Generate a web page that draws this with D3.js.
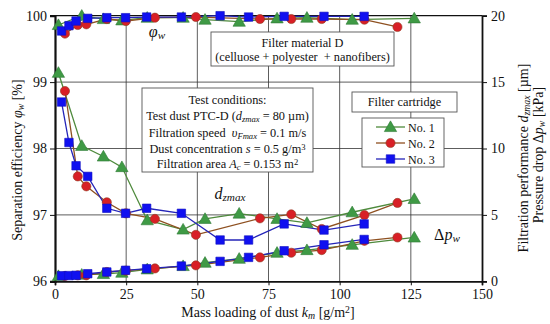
<!DOCTYPE html>
<html><head><meta charset="utf-8">
<script src="https://cdn.jsdelivr.net/npm/d3@7"></script>
<style>body{margin:0;background:#fff}svg{display:block}text{font-family:"Liberation Serif","Times New Roman",serif;fill:#111}</style>
</head><body><svg id="c" width="550" height="324"></svg>
<script>
// ---- data ----
const k1 = [1.2, 9.4, 17, 23.5, 32.4, 45, 52.7, 64.7, 78, 88.5, 104.4, 126.2];
const phi1 = [99.86, 100, 99.95, 99.93, 99.97, 99.97, 99.94, 99.91, 99.96, 99.97, 99.94, 99.96];
const dz1 = [15.7, 10.2, 9.4, 8.6, 4.6, 3.9, 4.7, 5.1, 4.7, 4.4, 5.2, 6.2];
const dp1 = [0.4, 0.5, 0.55, 0.65, 0.9, 1.15, 1.4, 1.7, 2.15, 2.35, 2.75, 3.3];

const k2 = [3.5, 8, 11, 18.2, 24.9, 35.1, 49.5, 72, 83, 93.7, 108.7, 120.3];
const phi2 = [99.73, 99.86, 99.87, 99.95, 99.92, 99.97, 99.98, 99.95, 99.95, 99.95, 99.94, 99.83];
const dz2 = [14.33, 7.9, 7.15, 5.95, 5.12, 4.7, 3.5, 4.74, 5.04, 3.94, 4.99, 5.9];
const dp2 = [0.4, 0.45, 0.45, 0.7, 0.8, 0.97, 1.2, 1.8, 2.15, 2.35, 3.05, 3.3];

const k3 = [2.3, 4.9, 7.4, 11.5, 18.2, 24.8, 32.2, 44.4, 58, 68, 80.5, 94.5, 108.6];
const phi3 = [99.77, 99.85, 99.92, 99.96, 99.97, 99.97, 99.98, 99.98, 100, 99.98, 99.99, 99.99, 99.99];
const dz3 = [13.5, 10.45, 8.7, 7.9, 5.5, 5.12, 5.5, 5.12, 3.11, 3.11, 4.32, 3.86, 4.32];
const dp3 = [0.42, 0.43, 0.45, 0.57, 0.7, 0.83, 0.95, 1.15, 1.5, 1.8, 2.3, 2.75, 3.15];

const xTicks = [0, 25, 50, 75, 100, 125, 150];
const yLTicks = [96, 97, 98, 99, 100];
const yRTicks = [0, 5, 10, 15, 20];
const seriesNames = ["No. 1", "No. 2", "No. 3"];

// ---- layout ----
const svg = d3.select("#c");
const L = 55, R = 482, T = 15.7, B = 281.3;
const x = d3.scaleLinear().domain([0, 150]).range([L, R]);
const yL = d3.scaleLinear().domain([96, 100]).range([B, T]);
const yR = d3.scaleLinear().domain([0, 20]).range([B, T]);

const styles = [
  {line: "#4e8a3c", fill: "#3f9a45", stroke: "#2f7a35", shape: d3.symbolTriangle, size: 66},
  {line: "#8e5020", fill: "#d81f26", stroke: "#8e3a20", shape: d3.symbolCircle, size: 66},
  {line: "#2424b8", fill: "#1010f0", stroke: "#1010c0", shape: d3.symbolSquare, size: 72}
];
const series = [
  {k: k1, phi: phi1, dz: dz1, dp: dp1},
  {k: k2, phi: phi2, dz: dz2, dp: dp2},
  {k: k3, phi: phi3, dz: dz3, dp: dp3}
];

// grid
const g = svg.append("g");
g.selectAll(".vg").data(xTicks.filter(d => d > 0 && d < 150)).join("line")
  .attr("x1", d => x(d)).attr("x2", d => x(d)).attr("y1", T).attr("y2", B)
  .attr("stroke", "#333").attr("stroke-width", 0.8);
g.selectAll(".hg").data(yLTicks.filter(d => d > 96 && d < 100)).join("line")
  .attr("x1", L).attr("x2", R).attr("y1", d => yL(d)).attr("y2", d => yL(d))
  .attr("stroke", "#333").attr("stroke-width", 0.8);

// axes
const axL = svg.append("g").attr("transform", `translate(${L},0)`)
  .call(d3.axisLeft(yL).tickValues(yLTicks).tickSize(5).tickPadding(3).tickFormat(d3.format("d")));
const axR = svg.append("g").attr("transform", `translate(${R},0)`)
  .call(d3.axisRight(yR).tickValues(yRTicks).tickSize(5).tickPadding(4));
const axB = svg.append("g").attr("transform", `translate(0,${B})`)
  .call(d3.axisBottom(x).tickValues(xTicks).tickSize(4).tickPadding(4));
svg.append("line").attr("x1", L).attr("x2", R).attr("y1", T).attr("y2", T).attr("stroke", "#111").attr("stroke-width", 1.2);
[axL, axR, axB].forEach(a => {
  a.attr("font-family", null);
  a.selectAll("path").attr("stroke", "#111").attr("stroke-width", 1.8);
  a.selectAll("line").attr("stroke", "#111");
  a.selectAll("text").attr("font-size", 14).style("font-family", "'Liberation Serif', serif").attr("fill", "#111");
});
axL.select("path").attr("stroke-width", 2.2);

// lines & markers
function drawSeries(s, st, key, yS) {
  const pts = s.k.map((kk, i) => [kk, s[key][i]]);
  svg.append("path").datum(pts)
    .attr("d", d3.line().x(d => x(d[0])).y(d => yS(d[1])))
    .attr("fill", "none").attr("stroke", st.line).attr("stroke-width", 1.3);
}
function drawMarks(s, st, key, yS) {
  const pts = s.k.map((kk, i) => [kk, s[key][i]]);
  svg.append("g").selectAll("path").data(pts).join("path")
    .attr("transform", d => `translate(${x(d[0])},${yS(d[1]) + (st.shape === d3.symbolTriangle ? 1 : 0)})`)
    .attr("d", d3.symbol().type(st.shape).size(st.size))
    .attr("fill", st.fill).attr("stroke", st.stroke).attr("stroke-width", 0.6);
}
const keys = [["phi", yL], ["dz", yR], ["dp", yR]];
series.forEach((s, i) => keys.forEach(([kk, ys]) => drawSeries(s, styles[i], kk, ys)));
series.forEach((s, i) => keys.forEach(([kk, ys]) => drawMarks(s, styles[i], kk, ys)));

// rich text helper
function rich(sel, parts, size) {
  parts.forEach(p => {
    const o = typeof p === "string" ? {t: p} : p;
    const ts = sel.append("tspan").text(o.t);
    if (o.i) ts.attr("font-style", "italic");
    if (o.sub) ts.attr("baseline-shift", "-22%").attr("font-size", size * 0.7);
    if (o.sup) ts.attr("baseline-shift", "38%").attr("font-size", size * 0.7);
  });
  return sel;
}
function txt(xp, yp, parts, size, anchor, rot) {
  const t = svg.append("text").attr("x", xp).attr("y", yp).attr("font-size", size)
    .attr("text-anchor", anchor || "middle");
  if (rot) t.attr("transform", `rotate(${rot},${xp},${yp})`);
  return rich(t, parts, size);
}

// axis titles
txt(22, 160, ["Separation efficiency ", {t: "φ", i: 1}, {t: "w", i: 1, sub: 1}, " [%]"], 14, "middle", -90);
txt(528, 158, ["Filtration performance ", {t: "d", i: 1}, {t: "zmax", i: 1, sub: 1}, " [µm]"], 14, "middle", -90);
txt(543, 155, ["Pressure drop Δ", {t: "p", i: 1}, {t: "w", i: 1, sub: 1}, " [kPa]"], 14, "middle", -90);
txt(268, 317, ["Mass loading of dust ", {t: "k", i: 1}, {t: "m", i: 1, sub: 1}, " [g/m", {t: "2", sup: 1}, "]"], 14, "middle");

// curve annotations
txt(157, 37, [{t: "φ", i: 1}, {t: "w", i: 1, sub: 1}], 16, "middle");
txt(230, 199, [{t: "d", i: 1}, {t: "zmax", i: 1, sub: 1}], 16, "middle");
txt(447, 240, ["Δ", {t: "p", i: 1}, {t: "w", i: 1, sub: 1}], 16, "middle");

// boxes
function box(x0, y0, x1, y1) {
  svg.append("rect").attr("x", x0).attr("y", y0).attr("width", x1 - x0).attr("height", y1 - y0)
    .attr("fill", "#fff").attr("stroke", "#555").attr("stroke-width", 0.9);
}
const fs = 12.3;
box(211, 32, 394, 66);
txt(302.5, 47, ["Filter material D"], fs);
txt(302.5, 61, ["(celluose + polyester  + nanofibers)"], fs).attr("xml:space", "preserve");

box(142, 88, 313, 172);
txt(227.5, 103.5, ["Test conditions:"], fs);
txt(227.5, 120, ["Test dust PTC-D (", {t: "d", i: 1}, {t: "zmax", i: 1, sub: 1}, " = 80 µm)"], fs);
txt(227.5, 136.5, ["Filtration speed  ", {t: "υ", i: 1}, {t: "Fmax", i: 1, sub: 1}, " = 0.1 m/s"], fs).attr("xml:space", "preserve");
txt(227.5, 152.5, ["Dust concentration ", {t: "s", i: 1}, " = 0.5 g/m", {t: "3", sup: 1}], fs);
txt(227.5, 168, ["Filtration area ", {t: "A", i: 1}, {t: "c", i: 1, sub: 1}, " = 0.153 m", {t: "2", sup: 1}], fs);

box(352, 92, 457, 112);
txt(404.5, 106, ["Filter cartridge"], fs);

box(362, 118, 444, 167);
seriesNames.forEach((nm, i) => {
  const yy = 127 + i * 16;
  const st = styles[i];
  svg.append("line").attr("x1", 376).attr("x2", 405).attr("y1", yy).attr("y2", yy)
    .attr("stroke", st.line).attr("stroke-width", 1.3);
  svg.append("path").attr("transform", `translate(390.5,${yy + (i === 0 ? 1 : 0)})`)
    .attr("d", d3.symbol().type(st.shape).size(st.size)).attr("fill", st.fill).attr("stroke", st.stroke).attr("stroke-width", 0.6);
  txt(408, yy + 4.5, [nm], 12, "start");
});
</script></body></html>
